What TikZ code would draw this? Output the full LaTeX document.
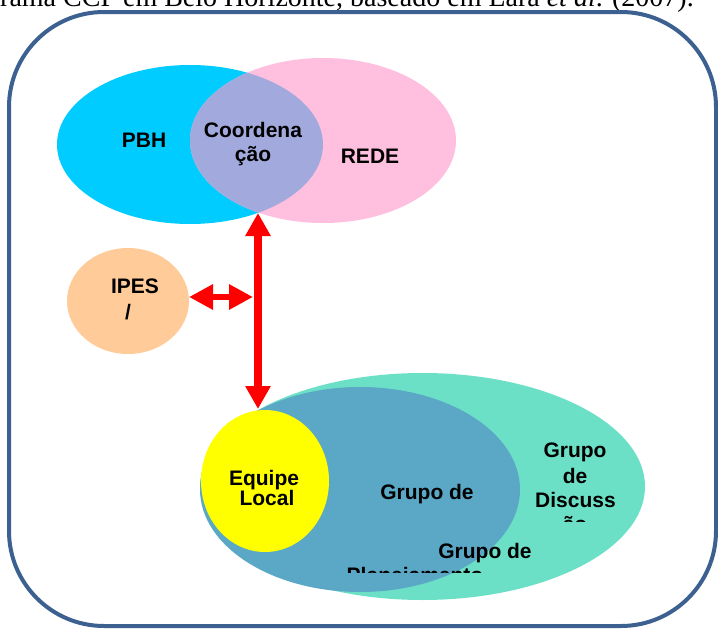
\documentclass[tikz,border=0pt]{standalone}
\usepackage{fontspec}
\setmainfont{Liberation Serif}
\newfontfamily\arialf{Liberation Sans}
\usetikzlibrary{shapes.geometric,arrows.meta}
\definecolor{cyanA}{HTML}{00CCFF}
\definecolor{pinkA}{HTML}{FFBFDF}
\definecolor{lavA}{HTML}{A2AADD}
\definecolor{peachA}{HTML}{FFCC99}
\definecolor{tealA}{HTML}{6CE0C6}
\definecolor{blueA}{HTML}{5AA8C6}
\definecolor{yellowA}{HTML}{FFFF00}
\definecolor{frameA}{HTML}{3C6090}
\definecolor{redA}{HTML}{FF0000}
\tikzset{
  blob/.style={ellipse, inner sep=0pt, draw=none},
  lbl/.style={anchor=base, inner sep=0pt, font=\arialf\bfseries\fontsize{21}{24}\selectfont, text=black},
  redarrow/.style={draw=redA, line width=7.5pt,
    {Triangle[length=23pt,width=24pt]}-{Triangle[length=23pt,width=24pt]}},
  redarrowsmall/.style={draw=redA, line width=6pt,
    {Triangle[length=24pt,width=24pt]}-{Triangle[length=24pt,width=24pt]}},
  framebox/.style={draw=frameA, line width=4pt, rounded corners=95pt},
}
\begin{document}
\begin{tikzpicture}[x=1pt,y=-1pt]
\useasboundingbox (0,0) rectangle (718,629);
% caption fragment
\node[anchor=base west, inner sep=0pt, font=\fontsize{28}{32}\selectfont] (cap) at (0,6)
  {rama CCP em Belo Horizonte, baseado em Lara \textit{et al}. (2007).};
% frame
\draw[framebox] (9,12) rectangle (716,626);
% top ellipses
\node[blob, fill=cyanA, minimum width=266pt, minimum height=159pt] (pbh) at (190,144.5) {};
\node[blob, fill=pinkA, minimum width=266pt, minimum height=165pt] (rede) at (323,140.5) {};
\begin{scope}
  \clip (190,144.5) ellipse [x radius=133pt, y radius=79.5pt];
  \fill[lavA] (323,140.5) ellipse [x radius=133pt, y radius=82.5pt];
\end{scope}
\node[lbl] (tpbh) at (144,147) {PBH};
\node[lbl] (tcoord1) at (253,137) {Coordena};
\node[lbl] (tcoord2) at (253,161) {ção};
\node[lbl] (trede) at (370,163) {REDE};
% IPES
\node[blob, fill=peachA, minimum width=122pt, minimum height=106pt] (ipes) at (128,301) {};
\node[lbl] (tipes1) at (135,293) {IPES};
\node[lbl] (tipes2) at (128,319) {/};
% bottom ellipses
\node[blob, fill=tealA, minimum width=445pt, minimum height=227pt] (disc) at (422.5,486.5) {};
\node[blob, fill=blueA, minimum width=320pt, minimum height=205pt] (plan) at (360,489.5) {};
\node[blob, fill=yellowA, minimum width=128pt, minimum height=142pt] (equipe) at (265,481) {};
\node[lbl] (teq1) at (264,485) {Equipe};
\node[lbl] (teq2) at (267,505) {Local};
\node[lbl] (tplan) at (427,499) {Grupo de};
\begin{scope}
  \clip (400,380) rectangle (700,521.7);
  \node[lbl] (tdisc1) at (575,457) {Grupo};
  \node[lbl] (tdisc2) at (575,483) {de};
  \node[lbl] (tdisc3) at (575.5,507) {Discuss};
  \node[lbl] (tdisc4) at (575,531) {ão};
\end{scope}
\node[lbl] (tgp1) at (485,558) {Grupo de};
\begin{scope}
  \clip (300,540) rectangle (600,572);
  \node[lbl] (tgp2) at (415,582) {Planejamento};
\end{scope}
% arrows
\coordinate (coordbot) at (258,213);
\coordinate (eqtop) at (258,409);
\coordinate (ipesend) at (189,297);
\coordinate (vline) at (253,297);
\draw[redarrow] (coordbot) -- (eqtop);
\draw[redarrowsmall] (ipesend) -- (vline);
\end{tikzpicture}
\end{document}
